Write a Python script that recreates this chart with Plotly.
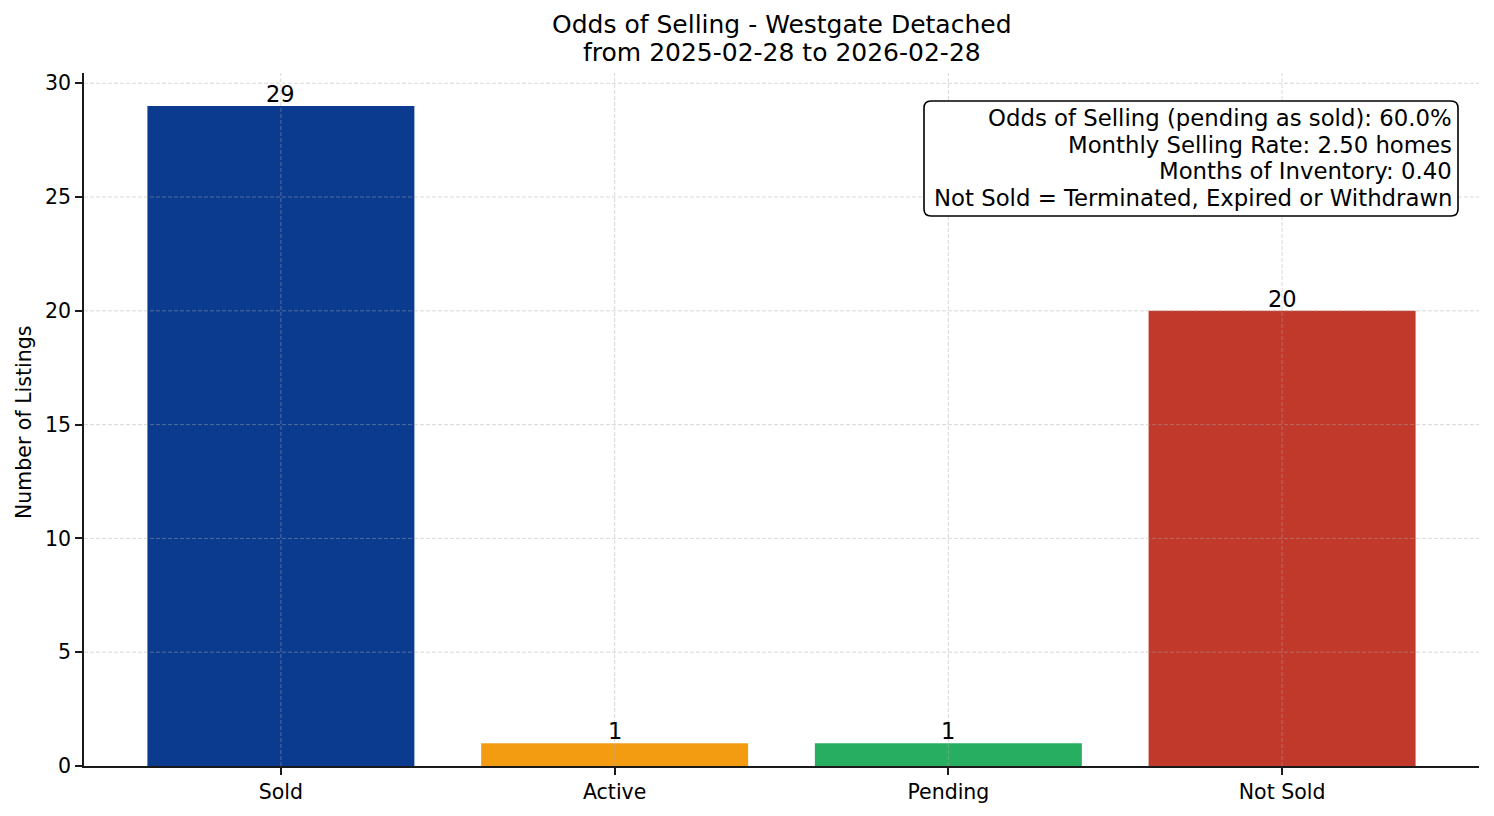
import plotly.graph_objects as go

# data
categories = ["Sold", "Active", "Pending", "Not Sold"]
counts = [29, 1, 1, 20]
bar_colors = ["#0b3b8f", "#f39c12", "#27ae60", "#c0392b"]
y_ticks = [0, 5, 10, 15, 20, 25, 30]
title_lines = ["Odds of Selling - Westgate Detached", "from 2025-02-28 to 2026-02-28"]
info_lines = [
    "Odds of Selling (pending as sold): 60.0%",
    "Monthly Selling Rate: 2.50 homes",
    "Months of Inventory: 0.40",
    "Not Sold = Terminated, Expired or Withdrawn",
]

W, H = 1494, 816
ML, MR, MT, MB = 84, 15, 73, 50
PW, PH = W - ML - MR, H - MT - MB
FONT = "DejaVu Sans"
GRID = "rgba(170,170,170,0.45)"


def px_x(x):
    return (x - ML) / PW


def px_y(y):
    return (H - MB - y) / PH


def rounded_box(x0, y0, x1, y1, r):
    # pixel coords -> paper path with rounded corners
    X, Y = px_x, px_y
    return " ".join([
        f"M {X(x0 + r)},{Y(y0)}",
        f"L {X(x1 - r)},{Y(y0)}",
        f"Q {X(x1)},{Y(y0)} {X(x1)},{Y(y0 + r)}",
        f"L {X(x1)},{Y(y1 - r)}",
        f"Q {X(x1)},{Y(y1)} {X(x1 - r)},{Y(y1)}",
        f"L {X(x0 + r)},{Y(y1)}",
        f"Q {X(x0)},{Y(y1)} {X(x0)},{Y(y1 - r)}",
        f"L {X(x0)},{Y(y0 + r)}",
        f"Q {X(x0)},{Y(y0)} {X(x0 + r)},{Y(y0)} Z",
    ])


xs = list(range(len(categories)))

fig = go.Figure(go.Bar(
    x=xs, y=counts,
    marker=dict(color=bar_colors, line=dict(width=0)),
    width=0.8,
    hoverinfo="x+y",
))

fig.update_layout(
    width=W, height=H,
    margin=dict(l=ML, r=MR, t=MT, b=MB),
    paper_bgcolor="white", plot_bgcolor="white",
    font=dict(family=FONT, color="black"),
    showlegend=False,
)

axis_style = dict(
    showline=True, linecolor="#1a1a1a", linewidth=1.6,
    ticks="outside", ticklen=7, tickcolor="#1a1a1a", tickwidth=1.5,
    showgrid=False, zeroline=False, layer="above traces",
    tickfont=dict(size=20.5, family=FONT, color="black"),
)
fig.update_xaxes(range=[-0.59, 3.59], tickvals=xs, ticktext=categories, **axis_style)
fig.update_yaxes(range=[0, 30.45], tickvals=y_ticks, **axis_style)

# dashed grid drawn over the bars, like the original
for t in y_ticks[1:]:
    fig.add_shape(type="line", xref="paper", yref="y", x0=0, x1=1, y0=t, y1=t,
                  line=dict(color=GRID, width=1, dash="4px,2px"), layer="above")
for x in xs:
    fig.add_shape(type="line", xref="x", yref="paper", x0=x, x1=x, y0=0, y1=1,
                  line=dict(color=GRID, width=1, dash="4px,2px"), layer="above")

# value labels on top of the bars
for x, c in zip(xs, counts):
    fig.add_annotation(text=str(c), x=x, y=c, xref="x", yref="y",
                       xanchor="center", yanchor="bottom", yshift=-3,
                       showarrow=False, font=dict(size=22.5, family=FONT, color="black"))

# title
for txt, yy in zip(title_lines, [25, 53]):
    fig.add_annotation(text=txt, xref="paper", yref="paper", x=0.5, y=px_y(yy),
                       xanchor="center", yanchor="middle", showarrow=False,
                       font=dict(size=25, family=FONT, color="black"))

# y label
fig.add_annotation(text="Number of Listings", xref="paper", yref="paper",
                   x=px_x(24), y=px_y(423), xanchor="center", yanchor="middle",
                   textangle=-90, showarrow=False,
                   font=dict(size=20.5, family=FONT, color="black"))

# info box
fig.add_shape(type="path", xref="paper", yref="paper",
              path=rounded_box(924, 101, 1458, 216, 7),
              line=dict(color="black", width=1.6), fillcolor="white", layer="above")

for txt, yy in zip(info_lines, [118, 145, 171, 198]):
    fig.add_annotation(text=txt, xref="paper", yref="paper",
                       x=px_x(1454), y=px_y(yy), xanchor="right", yanchor="middle",
                       showarrow=False, font=dict(size=22.8, family=FONT, color="black"))

fig.write_html("out.html", config={"displayModeBar": False},
               post_script="document.body.style.margin='0';")
